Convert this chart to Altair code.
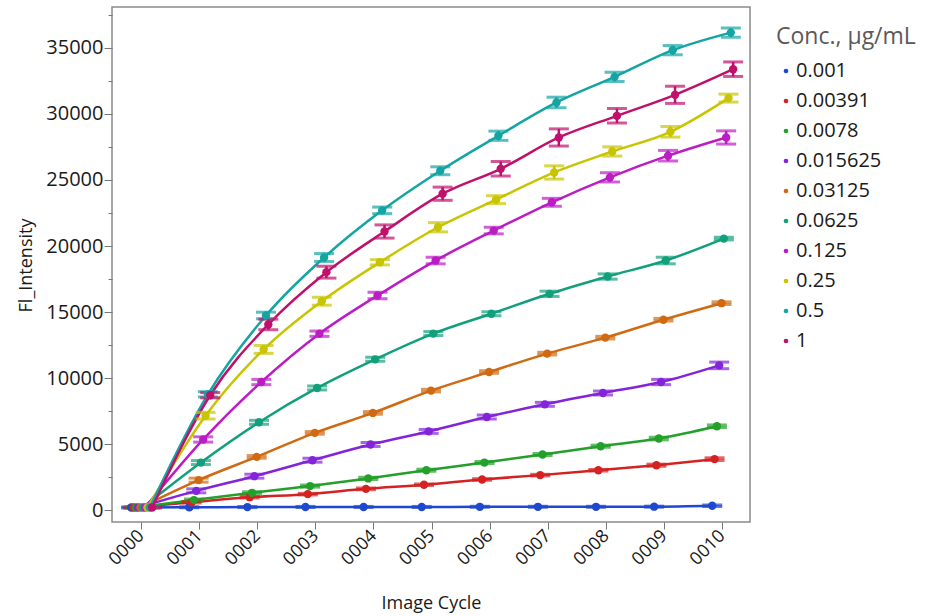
import altair as alt
import pandas as pd

cycles = [0, 1, 2, 3, 4, 5, 6, 7, 8, 9, 10]
concentrations = ["0.001", "0.00391", "0.0078", "0.015625", "0.03125",
                  "0.0625", "0.125", "0.25", "0.5", "1"]
colors = ["#1f48d0", "#d42222", "#22a02a", "#8424d8", "#d06a12",
          "#12a07c", "#bc1cc4", "#c8c400", "#14a4a4", "#c0106c"]

# mean Fl_Intensity per image cycle, one list per concentration
v_0_001 = [200, 220, 230, 240, 240, 240, 250, 250, 250, 260, 330]
v_0_00391 = [200, 600, 980, 1210, 1610, 1920, 2320, 2650, 3020, 3400, 3860]
v_0_0078 = [200, 760, 1310, 1820, 2400, 3020, 3600, 4210, 4840, 5420, 6350]
v_0_015625 = [200, 1460, 2570, 3780, 4970, 5960, 7050, 8010, 8870, 9700, 10960]
v_0_03125 = [200, 2270, 4030, 5850, 7360, 9050, 10460, 11850, 13060, 14420, 15670]
v_0_0625 = [200, 3600, 6650, 9250, 11420, 13370, 14870, 16380, 17690, 18900, 20560]
v_0_125 = [200, 5350, 9700, 13360, 16250, 18900, 21170, 23310, 25200, 26840, 28220]
v_0_25 = [200, 7150, 12170, 15820, 18770, 21420, 23510, 25570, 27160, 28650, 31200]
v_0_5 = [200, 8770, 14740, 19130, 22700, 25700, 28350, 30870, 32810, 34830, 36160]
v_1 = [200, 8700, 14060, 18020, 21100, 23960, 25850, 28220, 29860, 31450, 33390]

# error (+/-) per point
e_0_001 = [40, 40, 40, 40, 40, 40, 40, 40, 40, 40, 60]
e_0_00391 = [40, 60, 60, 60, 60, 60, 60, 60, 60, 80, 100]
e_0_0078 = [40, 80, 80, 80, 80, 80, 80, 80, 80, 100, 100]
e_0_015625 = [40, 150, 150, 150, 150, 150, 150, 150, 150, 200, 250]
e_0_03125 = [40, 150, 100, 100, 100, 100, 100, 100, 100, 100, 100]
e_0_0625 = [40, 150, 150, 150, 150, 150, 150, 200, 200, 250, 100]
e_0_125 = [40, 200, 200, 200, 250, 250, 250, 300, 350, 400, 500]
e_0_25 = [40, 250, 300, 300, 200, 350, 300, 500, 350, 400, 300]
e_0_5 = [40, 200, 250, 300, 250, 300, 350, 400, 350, 350, 350]
e_1 = [40, 200, 400, 450, 500, 500, 550, 650, 550, 650, 550]

# y-axis tick positions
major_ticks = [0, 5000, 10000, 15000, 20000, 25000, 30000, 35000]
minor_ticks = [2500, 7500, 12500, 17500, 22500, 27500, 32500, 37500]

values = [v_0_001, v_0_00391, v_0_0078, v_0_015625, v_0_03125,
          v_0_0625, v_0_125, v_0_25, v_0_5, v_1]
errors = [e_0_001, e_0_00391, e_0_0078, e_0_015625, e_0_03125,
          e_0_0625, e_0_125, e_0_25, e_0_5, e_1]

rows = []
for i, conc in enumerate(concentrations):
    for j, c in enumerate(cycles):
        rows.append({"conc": conc, "idx": i, "cycle": c,
                     "value": values[i][j], "err": errors[i][j]})
df = pd.DataFrame(rows)
df_minor = pd.DataFrame({"value": minor_ticks})

FONT = "Open Sans"

base = alt.Chart(df).transform_calculate(
    xpos="datum.cycle + datum.idx * 0.04 - 0.17",
    lo="datum.value - datum.err",
    hi="datum.value + datum.err",
)

xscale = alt.Scale(domain=[-0.5, 10.48], nice=False, zero=False)
yscale = alt.Scale(domain=[-900, 38100], nice=False, zero=False)
cscale = alt.Scale(domain=concentrations, range=colors)
color = alt.Color("conc:N", scale=cscale, sort=concentrations,
                  legend=alt.Legend(title="Conc., μg/mL", orient="none",
                                    legendX=664, legendY=19,
                                    symbolType="circle", symbolSize=22,
                                    symbolStrokeWidth=0,
                                    labelFontSize=20, labelFont=FONT,
                                    labelColor="#1a1a1a", labelOffset=0,
                                    titleFontSize=23, titleFont=FONT,
                                    titleFontWeight="normal", titleColor="#5a5a5a",
                                    titlePadding=12, rowPadding=10))

x = alt.X("xpos:Q", scale=xscale,
          axis=alt.Axis(title="Image Cycle", values=cycles, format="04d",
                        labelAngle=315, labelAlign="right", labelBaseline="middle",
                        labelFontSize=18, labelFont=FONT, labelColor="#1a1a1a",
                        labelPadding=4, tickSize=7, tickColor="#777777",
                        domain=False, grid=False,
                        titleFontSize=18, titleFont=FONT, titleFontWeight="normal",
                        titleColor="#1a1a1a", titleY=81, titleBaseline="middle"))

y = alt.Y("value:Q", scale=yscale,
          axis=alt.Axis(title="Fl_Intensity", values=major_ticks, orient="left",
                        format="d",
                        labelFontSize=20, labelFont=FONT, labelColor="#1a1a1a",
                        labelPadding=1, tickSize=8, tickColor="#777777",
                        domain=False, grid=False,
                        titleFontSize=18, titleFont=FONT, titleFontWeight="normal",
                        titleColor="#1a1a1a", titleX=-86, titleY=258,
                        titleBaseline="middle"))

lines = base.mark_line(interpolate="monotone", strokeWidth=2.5).encode(
    x=x, y=y, color=color, order="cycle:Q")

nolegend = alt.Color("conc:N", legend=None, scale=cscale)
rules = base.mark_rule(strokeWidth=2.5).encode(
    x="xpos:Q", y="lo:Q", y2="hi:Q", color=nolegend)
caps_lo = base.mark_tick(orient="horizontal", size=20, thickness=3).encode(
    x="xpos:Q", y="lo:Q", color=nolegend)
caps_hi = base.mark_tick(orient="horizontal", size=20, thickness=3).encode(
    x="xpos:Q", y="hi:Q", color=nolegend)
points = base.mark_point(filled=True, size=70, opacity=1).encode(
    x="xpos:Q", y="value:Q", color=nolegend)

main = alt.layer(lines, rules, caps_lo, caps_hi, points)

minor = alt.Chart(df_minor).mark_point(opacity=0).encode(
    y=alt.Y("value:Q", scale=yscale,
            axis=alt.Axis(orient="left", values=minor_ticks, labels=False,
                          tickSize=4, tickColor="#777777", title=None,
                          domain=False, grid=False)))

chart = alt.layer(main, minor).resolve_axis(y="independent").properties(
    width=638, height=515,
    autosize=alt.AutoSizeParams(type="none"),
    padding={"left": 112, "top": 7, "right": 183, "bottom": 94},
    background="white",
).configure_view(stroke="#8a8a8a", strokeWidth=1.5)

chart.save("out.html", embed_options={"renderer": "svg", "actions": False})
